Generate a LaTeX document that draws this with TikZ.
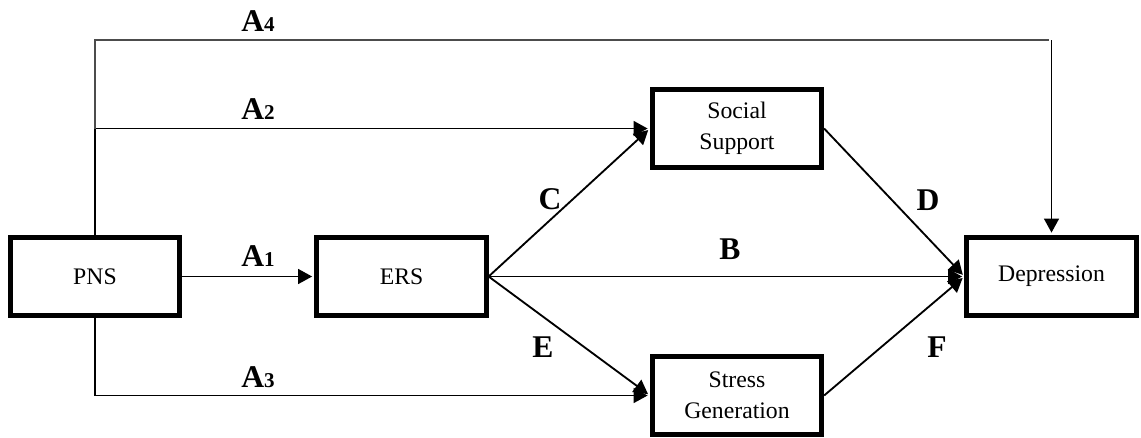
\documentclass[tikz,border=0pt]{standalone}
\usepackage{fontspec}
\setmainfont{Liberation Serif}
\usetikzlibrary{arrows.meta}

\newcommand{\pathlab}[2]{\textbf{{\fontsize{18}{20}\selectfont #1}{\fontsize{12}{14}\selectfont #2}}}

\begin{document}
\begin{tikzpicture}[x=0.02cm,y=-0.02cm,>={Triangle[length=8pt,width=8.5pt]},shorten >=1.3pt,
  var/.style={draw,line width=2.7pt,minimum width=3.39cm,minimum height=1.57cm,inner sep=0pt,align=center,font=\fontsize{13.5}{17.5}\selectfont},
  lab/.style={anchor=base,inner sep=0pt},
  conn/.style={line width=1.05pt},
  longconn/.style={line width=0.7pt,draw=black!70}]

\useasboundingbox (0,0) rectangle (1141,437);

\node[var] (pns) at (95,276.5)    {PNS};
\node[var] (ers) at (401.5,276.5) {ERS};
\node[var] (ss)  at (737,128.5)   {Social\\Support};
\node[var] (sg)  at (737,395.5)   {Stress\\Generation};
\node[var] (dep) at (1051.5,276.5) {Depression};

\coordinate (top) at (95,40);
\coordinate (mid) at (95,128.5);
\coordinate (corner) at (top -| dep.north);

% paths from PNS
\draw[conn,->] (pns) -- (ers);
\draw[conn,shorten >=0pt] (pns.north) -- (mid);
\draw[conn,->] (mid) -- (ss.west);
\draw[conn,->] (pns.south) |- (sg.west);
\draw[longconn] (mid) -- (top) -- (corner);
\draw[conn,->] (corner) -- (dep.north);

% mediators
\path[conn,->] (ers.east) edge (ss.west)
                          edge (sg.west)
                          edge (dep.west)
               (ss.east)  edge (dep.west)
               (sg.east)  edge (dep.west);

\node[lab] (la4) at (258,31)  {\pathlab{A}{4}};
\node[lab] (la2) at (258,119) {\pathlab{A}{2}};
\node[lab] (la1) at (258,266) {\pathlab{A}{1}};
\node[lab] (la3) at (258,387) {\pathlab{A}{3}};
\node[lab] (lb)  at (730,259) {\pathlab{B}{}};
\node[lab] (lc)  at (550,209) {\pathlab{C}{}};
\node[lab] (le)  at (543,357) {\pathlab{E}{}};
\node[lab] (ld)  at (928,210) {\pathlab{D}{}};
\node[lab] (lf)  at (937,357) {\pathlab{F}{}};

\end{tikzpicture}
\end{document}
